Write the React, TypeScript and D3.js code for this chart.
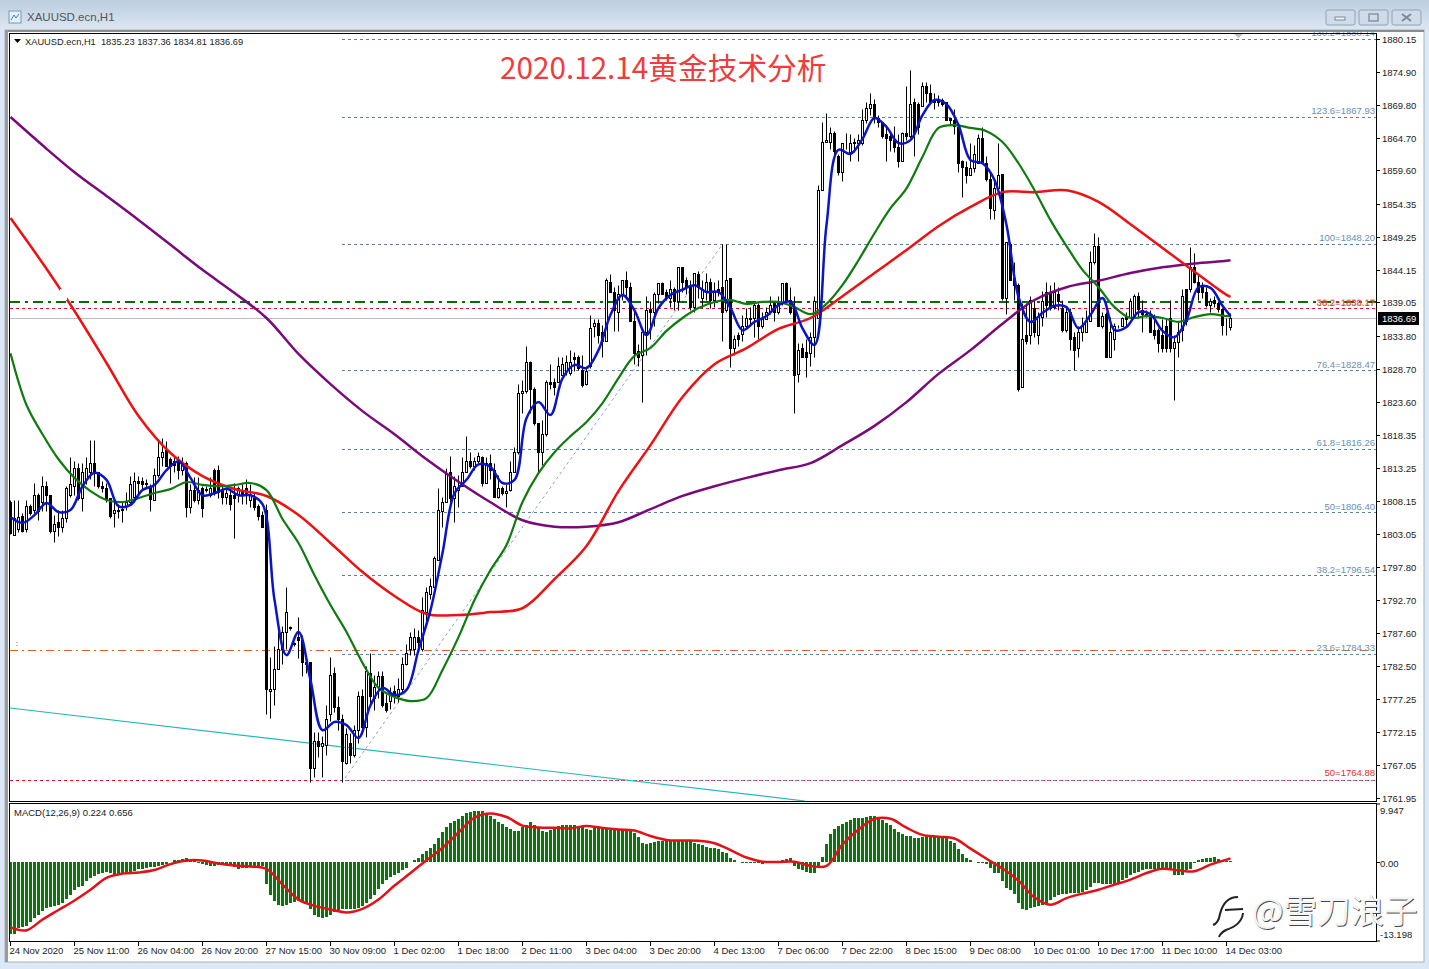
import * as d3 from "d3"

const symbolTitle = "XAUUSD.ecn,H1"
const quoteLine = "XAUUSD.ecn,H1  1835.23 1837.36 1834.81 1836.69"
const macdLine = "MACD(12,26,9) 0.224 0.656"
const headline = "2020.12.14黄金技术分析"

const priceTicks = [1880.15, 1874.9, 1869.8, 1864.7, 1859.6, 1854.35, 1849.25, 1844.15, 1839.05, 1833.8, 1828.7, 1823.6, 1818.35, 1813.25, 1808.15, 1803.05, 1797.8, 1792.7, 1787.6, 1782.5, 1777.25, 1772.15, 1767.05, 1761.95]
const timeLabels = ["24 Nov 2020", "25 Nov 11:00", "26 Nov 04:00", "26 Nov 20:00", "27 Nov 15:00", "30 Nov 09:00", "1 Dec 02:00", "1 Dec 18:00", "2 Dec 11:00", "3 Dec 04:00", "3 Dec 20:00", "4 Dec 13:00", "7 Dec 06:00", "7 Dec 22:00", "8 Dec 15:00", "9 Dec 08:00", "10 Dec 01:00", "10 Dec 17:00", "11 Dec 10:00", "14 Dec 03:00"]

// fibonacci levels, label and price
const fibLabels = ["130.2=1880.14", "123.6=1867.93", "100=1848.20", "76.4=1828.47", "61.8=1816.26", "50=1806.40", "38.2=1796.54", "23.6=1784.33", "0=1764.60"]
const fibPrices = [1880.14, 1867.93, 1848.2, 1828.47, 1816.26, 1806.4, 1796.54, 1784.33, 1764.6]

// one line per 16 bars
const opens = [
  1808.0, 1802.9, 1803.7, 1805.8, 1803.7, 1807.4, 1806.8, 1809.0, 1808.0, 1810.5, 1809.1, 1803.5, 1804.8, 1804.1, 1805.5, 1809.1,
  1810.5, 1813.3, 1808.6, 1811.5, 1812.6, 1814.1, 1812.6, 1810.5, 1810.1, 1808.6, 1806.3, 1806.6, 1806.8, 1807.4, 1808.0, 1808.8,
  1811.3, 1811.3, 1811.0, 1810.5, 1808.3, 1812.2, 1815.0, 1816.1, 1814.6, 1814.3, 1814.3, 1813.0, 1814.1, 1807.2, 1809.9, 1808.3,
  1810.2, 1809.9, 1809.0, 1813.0, 1813.0, 1809.9, 1808.8, 1809.1, 1809.1, 1809.1, 1809.6, 1810.1, 1808.3, 1808.6, 1807.4, 1806.0,
  1806.8, 1778.5, 1778.9, 1781.9, 1785.0, 1787.8, 1788.4, 1785.9, 1786.9, 1786.5, 1783.1, 1783.0, 1766.6, 1770.8, 1769.9, 1770.2,
  1774.9, 1781.4, 1776.0, 1774.1, 1767.4, 1770.5, 1768.5, 1772.5, 1777.7, 1773.0, 1781.4, 1777.5, 1779.2, 1780.9, 1776.7, 1777.0,
  1778.5, 1777.8, 1778.8, 1782.8, 1785.0, 1785.0, 1787.0, 1785.0, 1790.8, 1793.6, 1794.8, 1799.0, 1806.5, 1808.0, 1812.7, 1808.6,
  1809.9, 1810.4, 1812.7, 1814.3, 1813.5, 1814.3, 1815.0, 1811.0, 1814.0, 1813.0, 1808.8, 1810.2, 1809.4, 1809.9, 1812.7, 1815.7,
  1825.0, 1825.2, 1829.8, 1825.6, 1820.3, 1815.7, 1818.5, 1826.6, 1826.7, 1826.7, 1827.8, 1828.3, 1828.1, 1830.6, 1830.6, 1828.6,
  1826.4, 1829.1, 1835.3, 1835.9, 1834.5, 1833.0, 1842.3, 1840.7, 1837.6, 1840.3, 1842.6, 1841.4, 1836.2, 1831.5, 1830.9, 1834.4,
  1838.1, 1837.6, 1840.3, 1842.1, 1840.7, 1839.8, 1841.2, 1839.2, 1844.5, 1842.5, 1841.8, 1838.4, 1843.5, 1839.8, 1840.6, 1842.3,
  1839.5, 1841.1, 1841.4, 1837.8, 1842.8, 1832.0, 1834.0, 1834.2, 1835.3, 1836.5, 1836.7, 1838.6, 1835.3, 1836.4, 1837.5, 1839.0,
  1837.5, 1839.0, 1842.1, 1839.5, 1838.2, 1827.9, 1832.0, 1831.4, 1831.2, 1833.6, 1836.7, 1856.6, 1864.1, 1864.1, 1865.5, 1861.9,
  1859.4, 1863.9, 1862.4, 1864.1, 1863.9, 1863.9, 1867.5, 1869.4, 1870.0, 1867.8, 1867.2, 1865.3, 1864.9, 1864.4, 1863.3, 1861.1,
  1865.5, 1864.9, 1870.2, 1869.9, 1869.6, 1872.7, 1871.7, 1870.3, 1870.3, 1870.6, 1870.2, 1867.7, 1867.5, 1866.3, 1861.0, 1860.2,
  1858.9, 1860.0, 1860.8, 1864.7, 1860.8, 1858.2, 1853.5, 1856.9, 1859.1, 1839.8, 1848.1, 1842.9, 1841.8, 1825.8, 1833.9, 1834.0,
  1838.2, 1834.0, 1836.8, 1840.7, 1840.7, 1838.4, 1840.3, 1838.2, 1834.8, 1837.5, 1833.6, 1832.0, 1834.4, 1834.5, 1836.1, 1845.3,
  1847.8, 1835.3, 1837.2, 1830.5, 1833.4, 1835.3, 1835.3, 1836.8, 1836.8, 1836.8, 1840.1, 1837.9, 1837.2, 1837.2, 1834.8, 1834.8,
  1834.0, 1835.3, 1836.7, 1832.0, 1832.9, 1834.8, 1841.1, 1841.1, 1844.5, 1842.3, 1841.8, 1840.6, 1838.6, 1839.5, 1839.0, 1838.1,
  1835.4, 1835.23,
]
const highs = [
  1808.3, 1808.3, 1808.3, 1806.3, 1808.3, 1807.6, 1811.0, 1809.4, 1812.0, 1811.2, 1809.1, 1806.0, 1806.8, 1806.8, 1810.5, 1814.9,
  1814.3, 1814.1, 1814.1, 1815.0, 1817.7, 1817.7, 1812.7, 1811.2, 1811.0, 1808.6, 1808.3, 1807.7, 1808.0, 1809.6, 1812.0, 1812.6,
  1812.0, 1811.8, 1811.5, 1810.7, 1813.3, 1817.8, 1818.0, 1817.4, 1814.9, 1814.9, 1815.2, 1815.0, 1814.3, 1810.7, 1811.8, 1811.8,
  1810.5, 1810.4, 1811.8, 1813.3, 1813.8, 1810.7, 1810.2, 1810.4, 1811.0, 1810.4, 1811.0, 1811.5, 1810.7, 1809.4, 1807.7, 1806.5,
  1807.6, 1783.8, 1785.5, 1787.8, 1788.6, 1794.8, 1788.7, 1786.2, 1790.0, 1787.3, 1783.9, 1783.1, 1772.2, 1772.2, 1771.5, 1776.4,
  1783.9, 1782.2, 1777.7, 1774.9, 1772.8, 1772.0, 1773.3, 1778.5, 1778.8, 1782.5, 1784.5, 1781.1, 1781.6, 1781.6, 1778.0, 1779.1,
  1779.5, 1780.6, 1783.8, 1785.8, 1787.8, 1788.3, 1788.1, 1793.2, 1794.8, 1796.2, 1799.5, 1810.1, 1808.8, 1813.3, 1815.2, 1812.0,
  1812.2, 1815.0, 1818.2, 1815.7, 1815.0, 1815.7, 1815.2, 1815.0, 1815.4, 1814.1, 1812.2, 1810.4, 1810.7, 1814.4, 1816.6, 1826.4,
  1827.0, 1832.3, 1829.9, 1825.8, 1820.3, 1820.8, 1827.0, 1829.4, 1827.3, 1830.5, 1830.5, 1830.8, 1831.7, 1831.4, 1830.9, 1830.9,
  1829.1, 1837.1, 1836.4, 1836.4, 1835.6, 1842.8, 1843.4, 1841.5, 1841.8, 1842.6, 1843.9, 1842.3, 1838.2, 1832.5, 1834.4, 1840.0,
  1839.2, 1840.6, 1842.1, 1842.3, 1841.2, 1842.6, 1841.5, 1844.5, 1844.5, 1843.0, 1842.6, 1843.7, 1843.9, 1842.6, 1843.7, 1842.9,
  1842.3, 1842.6, 1848.1, 1848.1, 1842.9, 1834.0, 1834.4, 1837.1, 1838.2, 1838.4, 1838.9, 1839.0, 1837.6, 1838.4, 1840.0, 1839.3,
  1840.0, 1842.1, 1842.3, 1841.5, 1840.0, 1832.8, 1832.8, 1833.3, 1834.4, 1840.0, 1857.4, 1867.1, 1868.6, 1866.3, 1865.8, 1862.1,
  1863.9, 1865.5, 1865.2, 1864.7, 1865.2, 1869.2, 1870.2, 1871.7, 1870.8, 1868.3, 1867.2, 1866.7, 1865.6, 1866.6, 1865.2, 1865.6,
  1872.7, 1875.3, 1870.9, 1870.2, 1873.4, 1873.3, 1873.0, 1871.7, 1871.4, 1870.9, 1870.3, 1867.8, 1869.1, 1867.0, 1861.3, 1861.0,
  1863.9, 1863.6, 1865.2, 1866.3, 1861.8, 1859.3, 1858.3, 1863.9, 1859.1, 1848.5, 1848.4, 1845.4, 1842.0, 1839.0, 1839.0, 1840.0,
  1839.5, 1837.5, 1840.9, 1842.3, 1841.8, 1842.3, 1841.4, 1839.5, 1838.2, 1838.2, 1834.5, 1835.3, 1836.8, 1837.9, 1847.0, 1849.9,
  1849.2, 1837.5, 1837.6, 1836.8, 1835.9, 1835.6, 1836.8, 1837.5, 1839.8, 1840.3, 1840.6, 1839.5, 1837.9, 1837.9, 1837.2, 1835.1,
  1836.4, 1836.7, 1839.5, 1834.0, 1836.1, 1841.1, 1841.1, 1847.7, 1846.8, 1843.4, 1842.3, 1841.4, 1839.8, 1840.1, 1839.2, 1838.2,
  1836.7, 1837.36,
]
const lows = [
  1803.0, 1802.9, 1803.3, 1803.3, 1803.3, 1806.0, 1806.3, 1805.2, 1806.5, 1806.5, 1803.2, 1801.7, 1802.6, 1803.3, 1804.9, 1808.8,
  1809.1, 1808.3, 1806.5, 1810.7, 1811.5, 1810.4, 1810.2, 1809.6, 1808.0, 1805.5, 1804.0, 1805.5, 1804.8, 1806.8, 1807.6, 1808.0,
  1809.0, 1809.9, 1810.2, 1806.5, 1808.3, 1811.9, 1813.5, 1813.5, 1811.0, 1812.6, 1811.5, 1812.2, 1805.7, 1806.3, 1808.0, 1807.7,
  1805.7, 1809.6, 1808.8, 1809.1, 1808.6, 1807.6, 1807.7, 1806.8, 1802.3, 1807.9, 1807.6, 1807.6, 1807.2, 1806.8, 1805.2, 1804.1,
  1774.9, 1774.3, 1776.4, 1781.9, 1782.7, 1785.0, 1788.1, 1785.6, 1783.7, 1780.8, 1781.4, 1764.3, 1765.1, 1768.2, 1765.2, 1768.6,
  1773.8, 1775.2, 1772.5, 1764.4, 1767.1, 1767.4, 1768.3, 1770.5, 1771.8, 1771.4, 1776.4, 1775.6, 1777.5, 1776.1, 1775.3, 1775.8,
  1776.7, 1776.9, 1778.4, 1782.6, 1784.2, 1784.2, 1785.0, 1784.7, 1789.2, 1792.8, 1794.6, 1799.0, 1804.1, 1808.0, 1807.9, 1804.8,
  1807.2, 1810.4, 1812.7, 1813.3, 1813.0, 1814.1, 1810.4, 1811.0, 1811.5, 1808.8, 1808.6, 1809.1, 1807.2, 1809.7, 1812.6, 1815.4,
  1821.9, 1825.0, 1821.9, 1820.0, 1812.6, 1813.7, 1818.3, 1825.6, 1824.7, 1826.6, 1827.8, 1827.8, 1827.8, 1828.3, 1828.6, 1825.9,
  1826.2, 1828.9, 1833.7, 1832.8, 1830.6, 1833.0, 1840.6, 1834.6, 1834.6, 1839.5, 1840.0, 1836.1, 1829.4, 1829.2, 1823.6, 1830.9,
  1833.3, 1835.3, 1839.0, 1840.3, 1839.5, 1838.4, 1837.8, 1837.8, 1840.6, 1840.3, 1837.9, 1837.6, 1839.8, 1838.2, 1839.5, 1838.2,
  1838.4, 1840.0, 1833.0, 1837.6, 1829.0, 1830.9, 1832.3, 1833.0, 1835.1, 1835.6, 1833.7, 1833.3, 1835.1, 1836.4, 1837.2, 1836.1,
  1837.3, 1838.7, 1839.0, 1837.2, 1821.9, 1826.6, 1830.5, 1827.5, 1829.1, 1830.5, 1836.7, 1856.5, 1864.0, 1862.9, 1861.8, 1858.9,
  1857.9, 1862.9, 1861.0, 1862.4, 1861.0, 1863.6, 1867.0, 1868.3, 1867.0, 1866.3, 1864.6, 1861.1, 1862.6, 1862.4, 1860.2, 1861.0,
  1864.4, 1864.7, 1861.9, 1865.2, 1869.6, 1870.2, 1870.2, 1869.1, 1869.6, 1869.6, 1867.4, 1866.7, 1865.2, 1859.4, 1855.5, 1857.7,
  1858.9, 1859.4, 1860.8, 1860.8, 1858.0, 1852.0, 1852.0, 1856.6, 1839.5, 1837.2, 1842.6, 1839.5, 1825.3, 1825.8, 1832.5, 1832.5,
  1833.6, 1832.5, 1835.3, 1836.8, 1837.9, 1838.1, 1837.9, 1834.5, 1834.5, 1831.7, 1828.6, 1830.6, 1833.0, 1834.4, 1836.1, 1845.1,
  1835.3, 1835.1, 1830.5, 1830.5, 1831.7, 1835.1, 1835.3, 1835.3, 1836.7, 1836.8, 1836.7, 1834.5, 1836.8, 1834.4, 1833.3, 1831.4,
  1831.4, 1831.4, 1831.4, 1823.9, 1830.6, 1833.0, 1835.6, 1840.7, 1842.1, 1839.5, 1839.8, 1838.4, 1837.5, 1838.4, 1837.6, 1834.0,
  1834.0, 1834.81,
]
const closes = [
  1803.2, 1805.4, 1805.7, 1803.5, 1807.4, 1806.3, 1809.1, 1806.5, 1810.5, 1809.0, 1803.5, 1804.6, 1804.0, 1805.5, 1810.1, 1810.7,
  1813.2, 1808.6, 1812.6, 1813.3, 1814.1, 1812.6, 1810.4, 1810.1, 1808.5, 1805.8, 1806.8, 1806.7, 1806.9, 1808.0, 1810.7, 1811.2,
  1811.0, 1810.7, 1810.7, 1808.5, 1812.2, 1815.0, 1815.8, 1813.6, 1813.5, 1813.8, 1813.0, 1813.8, 1807.2, 1809.9, 1808.3, 1809.9,
  1807.1, 1810.0, 1810.2, 1809.4, 1809.6, 1808.8, 1809.3, 1807.6, 1808.6, 1810.2, 1809.1, 1809.1, 1809.1, 1807.2, 1805.8, 1804.1,
  1778.8, 1778.9, 1782.0, 1785.0, 1787.8, 1790.8, 1788.5, 1786.0, 1786.5, 1783.0, 1782.8, 1766.6, 1770.7, 1769.9, 1770.4, 1774.1,
  1781.1, 1776.0, 1774.1, 1767.6, 1771.8, 1768.6, 1772.5, 1777.8, 1773.0, 1781.6, 1777.7, 1779.2, 1780.9, 1776.4, 1775.5, 1778.0,
  1777.7, 1778.9, 1782.8, 1784.5, 1787.0, 1787.0, 1786.1, 1791.1, 1793.9, 1794.9, 1799.2, 1806.8, 1808.0, 1812.4, 1808.6, 1810.4,
  1810.1, 1812.7, 1814.4, 1813.5, 1814.3, 1815.2, 1811.0, 1814.0, 1813.0, 1808.8, 1810.2, 1809.3, 1809.7, 1812.7, 1815.7, 1825.0,
  1825.2, 1829.8, 1825.6, 1820.2, 1815.7, 1818.5, 1826.6, 1826.4, 1825.8, 1829.1, 1829.5, 1829.7, 1829.7, 1830.3, 1828.9, 1826.2,
  1828.4, 1835.1, 1835.9, 1834.0, 1833.0, 1842.5, 1840.6, 1837.9, 1840.3, 1842.6, 1841.4, 1836.1, 1831.2, 1830.6, 1834.4, 1837.9,
  1837.5, 1840.3, 1842.1, 1840.3, 1839.8, 1841.2, 1839.2, 1844.5, 1842.3, 1841.5, 1838.4, 1843.7, 1841.4, 1841.1, 1842.3, 1839.5,
  1840.7, 1840.9, 1837.5, 1842.6, 1832.0, 1833.3, 1833.3, 1835.3, 1836.7, 1836.6, 1838.7, 1835.3, 1836.4, 1837.6, 1838.7, 1837.5,
  1839.0, 1842.0, 1839.2, 1837.6, 1827.8, 1831.7, 1830.6, 1830.5, 1833.7, 1839.2, 1856.6, 1864.1, 1864.3, 1865.5, 1862.6, 1859.4,
  1863.9, 1863.8, 1863.8, 1863.9, 1864.3, 1867.5, 1869.4, 1870.0, 1868.0, 1867.2, 1864.9, 1864.7, 1864.4, 1863.2, 1861.1, 1865.5,
  1864.9, 1870.0, 1865.5, 1866.4, 1872.7, 1871.7, 1870.2, 1870.4, 1870.4, 1869.9, 1867.5, 1867.4, 1866.6, 1860.8, 1860.2, 1858.9,
  1860.0, 1862.1, 1864.7, 1860.8, 1858.2, 1853.8, 1856.9, 1858.9, 1839.8, 1848.4, 1842.6, 1841.7, 1825.5, 1833.3, 1833.1, 1839.5,
  1834.5, 1836.8, 1839.2, 1838.7, 1838.2, 1840.7, 1839.2, 1834.8, 1837.5, 1833.3, 1831.7, 1834.5, 1835.3, 1836.1, 1845.3, 1847.8,
  1835.3, 1837.0, 1830.5, 1834.5, 1835.3, 1835.4, 1836.7, 1836.4, 1839.2, 1840.0, 1838.1, 1837.3, 1837.0, 1834.5, 1834.0, 1832.8,
  1832.0, 1832.0, 1832.0, 1832.9, 1834.5, 1840.0, 1836.1, 1844.5, 1842.3, 1840.7, 1840.6, 1838.6, 1839.2, 1839.0, 1838.1, 1835.6,
  1835.3, 1836.69,
]

// moving averages, read every few bars (the last reading is the final bar)
const BLUE_STEP = 3
const blueMa = [
  1805.7, 1804.8, 1806.0, 1807.9, 1806.5, 1806.8, 1810.5, 1812.6, 1811.5, 1807.4, 1807.6, 1809.9, 1810.7, 1813.0, 1814.4, 1811.8, 1809.1, 1809.4, 1810.1, 1809.1, 1809.1, 1807.7, 1792.8,
  1784.2, 1787.8, 1780.3, 1772.5, 1773.8, 1773.3, 1771.3, 1776.4, 1779.1, 1778.0, 1778.8, 1785.0, 1791.2, 1800.1, 1809.4, 1811.5, 1813.9, 1813.5, 1811.0, 1811.5, 1821.1, 1823.6, 1821.6,
  1827.3, 1829.4, 1828.9, 1831.7, 1837.2, 1840.3, 1837.9, 1834.05, 1838.25, 1840.3, 1841.1, 1841.8, 1840.75, 1840.75, 1838.25, 1834.8, 1836.1, 1837.0, 1838.7, 1839.2, 1835.1, 1832.5,
  1851.2, 1862.9, 1862.25, 1864.6, 1867.85, 1866.45, 1863.95, 1864.4, 1868.3, 1870.65, 1870.0, 1866.75, 1861.3, 1860.8, 1858.2, 1851.2, 1840.0, 1836.1, 1837.5, 1838.6, 1838.4, 1835.1,
  1837.2, 1839.8, 1834.8, 1835.3, 1837.6, 1837.3, 1834.7, 1833.7, 1836.4, 1841.5, 1841.4, 1838.6, 1837.0,
]
const GREEN_STEP = 4
const greenMa = [
  1831.2, 1823.15, 1818.6, 1814.7, 1811.8, 1809.75, 1808.35, 1808.05, 1808.65, 1809.45, 1810.05, 1811.15, 1810.7, 1810.5, 1810.7, 1811.0, 1809.9, 1805.4, 1801.65, 1796.65,
  1792.0, 1787.8, 1783.0, 1779.1, 1777.7, 1777.05, 1777.5, 1781.9, 1787.0, 1792.8, 1797.45, 1801.35, 1808.05, 1812.55, 1815.8, 1818.3, 1820.5, 1823.45, 1827.35, 1830.8,
  1832.05, 1834.7, 1836.7, 1838.25, 1839.2, 1839.5, 1838.9, 1839.2, 1839.2, 1838.4, 1837.3, 1838.9, 1841.85, 1845.7, 1849.9, 1853.8, 1856.9, 1861.8, 1866.3, 1866.75,
  1866.3, 1865.8, 1864.1, 1860.8, 1856.6, 1851.95, 1847.9, 1844.2, 1841.5, 1838.4, 1836.7, 1837.0, 1836.7, 1836.1, 1836.85, 1837.3, 1837.0, 1837.0,
]
const SLOW_STEP = 8
const redMa = [
  1852.27, 1845.26, 1837.79, 1829.69, 1821.44, 1815.67, 1812.09, 1810.07, 1808.98, 1806.02, 1801.66, 1797.14, 1793.41, 1790.6, 1790.45, 1790.9, 1791.5, 1796.05, 1801.2, 1809.75,
  1816.9, 1824.4, 1829.5, 1832.0, 1835.0, 1836.7, 1840.1, 1843.7, 1847.3, 1851.0, 1854.0, 1856.3, 1856.3, 1856.6, 1854.8, 1851.3, 1847.6, 1843.9, 1840.3, 1840.0,
]
const purpleMa = [
  1868.0, 1863.6, 1859.4, 1855.7, 1851.96, 1848.1, 1844.2, 1840.6, 1836.7, 1831.1, 1826.4, 1822.2, 1818.6, 1814.7, 1811.2, 1808.0, 1805.2, 1804.2, 1804.2, 1804.9,
  1806.95, 1809.0, 1810.5, 1811.8, 1813.0, 1814.1, 1816.9, 1819.9, 1823.6, 1828.0, 1831.7, 1835.8, 1839.5, 1841.5, 1842.5, 1843.7, 1844.6, 1845.2, 1845.6, 1845.7,
]

const macdBars = [
  -12.1, -12.0, -11.1, -10.9, -10.6, -10.0, -9.4, -8.8, -8.2, -7.7, -7.5, -7.3, -7.1, -6.9, -6.1, -5.4,
  -4.6, -4.2, -3.9, -3.2, -2.6, -2.3, -2.0, -1.8, -1.7, -1.8, -2.1, -2.0, -1.8, -1.8, -1.7, -1.5,
  -1.2, -1.1, -1.0, -0.8, -0.8, -0.7, -0.5, -0.2, 0.1, 0.35, 0.45, 0.6, 0.8, 0.4, 0.15, -0.1,
  -0.3, -0.5, -0.7, -0.55, -0.45, -0.4, -0.45, -0.55, -0.8, -1.1, -1.0, -0.9, -0.8, -0.7, -0.6, -0.55,
  -3.6, -5.4, -6.5, -7.1, -7.3, -7.2, -6.9, -6.7, -6.5, -6.5, -6.8, -7.9, -8.8, -9.2, -9.4, -9.2,
  -8.8, -8.4, -8.0, -7.9, -7.9, -7.9, -7.8, -7.6, -7.3, -6.8, -6.1, -5.4, -4.5, -3.6, -3.0, -2.5,
  -2.1, -1.8, -1.3, -0.9, 0.1, 0.35, 0.8, 1.35, 1.9, 2.45, 3.1, 4.1, 5.1, 6.0, 6.65, 6.9,
  7.3, 7.85, 8.2, 8.5, 8.65, 8.65, 8.55, 8.15, 7.75, 7.2, 6.75, 6.35, 5.85, 5.55, 5.2, 5.2,
  5.85, 6.2, 6.75, 6.3, 6.0, 5.2, 5.1, 5.5, 5.8, 6.05, 6.2, 6.2, 6.2, 6.3, 6.1, 5.85,
  5.6, 5.5, 5.75, 5.75, 5.6, 5.6, 5.5, 5.4, 5.4, 5.5, 5.6, 5.4, 4.85, 4.25, 3.2, 3.1,
  3.2, 3.4, 3.5, 3.6, 3.6, 3.75, 3.6, 3.5, 3.6, 3.75, 3.5, 3.3, 3.0, 2.85, 2.6, 2.45,
  2.4, 2.2, 1.75, 1.6, 0.8, 0.35, 0.05, -0.1, -0.1, -0.1, -0.1, -0.15, -0.2, -0.05, -0.05, -0.05,
  0.05, 0.4, 0.6, 0.65, -0.6, -1.05, -1.3, -1.55, -1.75, -1.75, -0.9, 0.95, 3.0, 4.7, 5.65, 6.1,
  6.5, 6.8, 7.1, 7.4, 7.4, 7.4, 7.65, 7.8, 7.8, 7.65, 7.1, 6.65, 6.2, 5.65, 5.15, 4.7,
  4.4, 4.4, 4.1, 4.1, 4.2, 4.4, 4.4, 4.3, 4.3, 4.3, 4.15, 3.6, 3.2, 2.3, 1.35, 0.8,
  0.4, 0.05, -0.1, -0.1, -0.35, -0.9, -1.75, -1.85, -3.2, -4.25, -4.65, -5.35, -6.8, -7.75, -8.0, -7.65,
  -7.5, -7.4, -7.1, -6.9, -6.25, -5.8, -5.4, -5.25, -5.25, -5.1, -5.1, -5.1, -4.9, -4.6, -4.1, -3.5,
  -3.5, -3.6, -3.6, -3.6, -3.6, -3.5, -2.9, -2.6, -2.1, -1.8, -1.7, -1.35, -1.2, -1.2, -1.2, -1.2,
  -1.2, -1.35, -1.35, -2.2, -2.2, -2.1, -1.35, -1.1, -0.1, 0.45, 0.55, 0.65, 0.7, 0.9, 0.55, 0.45,
  0.3, 0.224,
]
const SIGNAL_STEP = 4
const macdSignal = [
  -10.9, -11.4, -9.6, -8.0, -6.4, -4.6, -2.6, -1.9, -1.7, -1.3, -0.3, 0.3, 0.3, -0.2, -0.55, -0.7, -1.1, -3.75, -6.25, -7.3,
  -7.9, -8.4, -7.8, -6.25, -3.9, -1.8, 0.35, 2.45, 5.0, 7.5, 8.2, 7.6, 6.15, 5.85, 5.8, 5.7, 6.1, 5.75, 5.5, 5.35,
  4.4, 3.75, 3.65, 3.6, 3.2, 2.05, 0.8, 0.1, 0.05, 0.1, -0.6, -0.6, 3.0, 5.5, 7.3, 7.3, 5.8, 4.6, 4.3, 4.0,
  2.3, 0.6, -1.05, -3.1, -5.9, -7.1, -6.0, -5.25, -4.6, -3.75, -2.9, -1.8, -1.1, -1.35, -1.5, -0.4, 0.45, 0.656,
]

const lastBar = closes.length - 1
const lineFont = "'Liberation Sans', Arial, sans-serif"
const axisInk = "#1a1a1a"
const fibInk = "#6a8fb5"

const x = d3.scaleLinear().domain([0, 305]).range([10.5, 1230.5])
const y = d3.scaleLinear().domain([1761.95, 1880.15]).range([798, 39])
const m = d3.scaleLinear().domain([-13.198, 9.947]).range([941, 803])

// sampled series -> path, the last sample lands on the final bar
function sampledPath(values: number[], step: number, scale: (v: number) => number) {
  const line = d3
    .line<number>()
    .x((_, i) => x(Math.min(i * step, lastBar)))
    .y((d) => scale(d))
    .curve(d3.curveCatmullRom.alpha(0.5))
  return line(values) ?? ""
}

const snap = (v: number) => Math.round(v - 0.5) + 0.5

function Candle({ i }: { i: number }) {
  const cx = x(i)
  const up = closes[i] >= opens[i]
  const top = snap(y(Math.max(opens[i], closes[i])))
  const bottom = snap(y(Math.min(opens[i], closes[i])))
  return (
    <g>
      <line x1={cx} x2={cx} y1={snap(y(highs[i]))} y2={snap(y(lows[i]))} stroke="#000" />
      <rect x={cx - 1} y={top} width={2} height={Math.max(bottom - top, 0)} fill={up ? "#fff" : "#000"} stroke="#000" />
    </g>
  )
}

function Chrome() {
  return (
    <g>
      <defs>
        <linearGradient id="titleBar" x1="0" y1="0" x2="0" y2="1">
          <stop offset="0" stopColor="#bccde0" />
          <stop offset="1" stopColor="#dde7f1" />
        </linearGradient>
      </defs>
      <rect width={1429} height={969} fill="#dce8f5" />
      <rect width={1429} height={30} fill="url(#titleBar)" />
      <rect x={5} y={30} width={1419} height={932} fill="#fff" stroke="#a8b0b8" />
      <rect x={5} y={30} width={3} height={932} fill="#9a9a9a" />
      <rect x={8} y={30} width={1416} height={2} fill="#8c8c8c" />
      <rect x={9} y={11} width={12} height={12} fill="#e8f0f8" stroke="#6f9ac4" />
      <path d="M11 20 L14 15 L16 18 L19 14" fill="none" stroke="#4a7fb0" />
      <text x={27} y={21} fontFamily={lineFont} fontSize={11.5} fill="#555">{symbolTitle}</text>
      {[1326, 1359, 1392].map((bx) => (
        <rect key={bx} x={bx} y={10} width={29} height={15} rx={2} fill="#cfdbe8" stroke="#8fa3b8" />
      ))}
      <rect x={1335} y={17} width={10} height={3} fill="#eef3f8" stroke="#7c8b9a" />
      <rect x={1369} y={14} width={9} height={7} fill="none" stroke="#7c8b9a" strokeWidth={1.3} />
      <path d="M1402 14 L1411 21 M1411 14 L1402 21" stroke="#7c8b9a" strokeWidth={2} />
    </g>
  )
}

function Watermark() {
  const word = "@雪刀浪子"
  return (
    <g>
      <path d="M1238 897 C1226 897 1222 906 1220 914 C1219 920 1216 924 1213 925" fill="none" stroke="#222" strokeWidth={2} />
      <path d="M1225 910 L1243 909" fill="none" stroke="#222" strokeWidth={2} />
      <path d="M1243 913 C1242 924 1232 928 1226 930 C1222 932 1220 934 1219 937" fill="none" stroke="#222" strokeWidth={2} />
      <text x={1252.8} y={923.6} fontFamily="'Noto Sans CJK SC'" fontSize={33.5} fill="#444">{word}</text>
      <text x={1252} y={923} fontFamily="'Noto Sans CJK SC'" fontSize={33.5} fill="#f4f4f4">{word}</text>
    </g>
  )
}

export default function App() {
  const bars = d3.range(closes.length)
  return (
    <svg width={1429} height={969} style={{ position: "fixed", left: 0, top: 0, display: "block" }}>
      <Chrome />
      <defs>
        <clipPath id="pricePane">
          <rect x={10} y={34} width={1366} height={767} />
        </clipPath>
      </defs>

      {/* price pane */}
      <g clipPath="url(#pricePane)">
        <line x1={10} x2={1376} y1={snap(y(1836.69))} y2={snap(y(1836.69))} stroke="#bdbdbd" />
        <line x1={10} x2={1376} y1={snap(y(1838.17))} y2={snap(y(1838.17))} stroke="#e0102a" strokeDasharray="3,3" />
        <line x1={10} x2={1376} y1={snap(y(1764.7))} y2={snap(y(1764.7))} stroke="#e0102a" strokeDasharray="3,3" />
        {fibPrices.map((p) => (
          <line key={p} x1={p === 1764.6 ? 345 : 342} x2={1376} y1={snap(y(p))} y2={snap(y(p))} stroke="#5f7f9f" strokeDasharray="3,3" />
        ))}
        <line x1={10} x2={1376} y1={snap(y(1784.85))} y2={snap(y(1784.85))} stroke="#d8632a" strokeDasharray="8,4,2,4" />
        <line x1={345} y1={778} x2={722} y2={245} stroke="#6f8fb0" strokeWidth={0.8} strokeDasharray="3,3" />
        <line x1={10} y1={708} x2={805} y2={801} stroke="#27b6bd" strokeWidth={1.2} />
        <line x1={10} x2={1376} y1={302} y2={302} stroke="#0b6b0b" strokeWidth={2} strokeDasharray="10,5,3,5" />
        {bars.map((i) => <Candle key={i} i={i} />)}
        <path d={sampledPath(purpleMa, SLOW_STEP, y)} fill="none" stroke="#7a0a7a" strokeWidth={2.5} />
        <path d={sampledPath(redMa, SLOW_STEP, y)} fill="none" stroke="#ee1111" strokeWidth={2.5} />
        <rect x={60} y={289} width={7} height={11} fill="#fff" />
        <path d={sampledPath(greenMa, GREEN_STEP, y)} fill="none" stroke="#0f7a0f" strokeWidth={2.2} />
        <path d={sampledPath(blueMa, BLUE_STEP, y)} fill="none" stroke="#0a14c8" strokeWidth={2.5} />
        <path d="M1234 34 L1243 34 L1238.5 38 Z" fill="#bfbfbf" />
        <line x1={17} x2={17} y1={642} y2={648} stroke="#d8632a" strokeDasharray="1,2" />
      </g>

      {fibLabels.slice(0, -1).map((label, k) => (
        <text key={label} x={1375} y={y(fibPrices[k]) - 3} textAnchor="end" fontFamily={lineFont} fontSize={9.5} fill={fibInk}>{label}</text>
      ))}
      <text x={1375} y={306} textAnchor="end" fontFamily={lineFont} fontSize={9.5} fill="#e0301a">38.2=1838.17</text>
      <text x={1375} y={305} textAnchor="end" fontFamily={lineFont} fontSize={9.5} fill="#c98a70" opacity={0.6}>36.2=1839.17</text>
      <text x={1375} y={776} textAnchor="end" fontFamily={lineFont} fontSize={9.5} fill="#e0301a">50=1764.88</text>

      <text x={500} y={79} fontFamily="'Noto Sans CJK SC'" fontSize={29.7} fill="#f03c3c">{headline}</text>
      <path d="M14 39 L21 39 L17.5 43 Z" fill="#000" />
      <text x={25} y={45} fontFamily={lineFont} fontSize={9.3} fill={axisInk} xmlSpace="preserve">{quoteLine}</text>

      {/* macd pane */}
      {bars.map((i) => (
        <rect
          key={i}
          x={x(i) - 1.5}
          y={Math.round(m(Math.max(macdBars[i], 0)))}
          width={3}
          height={Math.abs(Math.round(m(macdBars[i])) - Math.round(m(0)))}
          fill="#0a760a"
        />
      ))}
      <path d={sampledPath(macdSignal, SIGNAL_STEP, m)} fill="none" stroke="#e41018" strokeWidth={2.5} />
      <text x={14} y={816} fontFamily={lineFont} fontSize={9.5} fill={axisInk}>{macdLine}</text>

      {/* frames */}
      <rect x={9.5} y={33.5} width={1367} height={768} fill="none" stroke="#000" />
      <rect x={9.5} y={803.5} width={1367} height={138} fill="none" stroke="#000" />

      {priceTicks.map((t) => (
        <g key={t}>
          <line x1={1377} x2={1380} y1={snap(y(t))} y2={snap(y(t))} stroke="#000" />
          <text x={1382} y={y(t) + 3.5} fontFamily={lineFont} fontSize={9.5} fill={axisInk}>{t.toFixed(2)}</text>
        </g>
      ))}
      <rect x={1378} y={312} width={41} height={13} fill="#000" />
      <text x={1382} y={322} fontFamily={lineFont} fontSize={9.5} fill="#fff">1836.69</text>

      <line x1={1377} x2={1380} y1={804} y2={804} stroke="#000" />
      <text x={1380} y={814} fontFamily={lineFont} fontSize={9.5} fill={axisInk}>9.947</text>
      <line x1={1377} x2={1380} y1={snap(m(0))} y2={snap(m(0))} stroke="#000" />
      <text x={1380} y={867} fontFamily={lineFont} fontSize={9.5} fill={axisInk}>0.00</text>
      <line x1={1377} x2={1380} y1={941} y2={941} stroke="#000" />
      <text x={1380} y={938} fontFamily={lineFont} fontSize={9.5} fill={axisInk}>-13.198</text>

      {timeLabels.map((label, k) => (
        <g key={label}>
          <line x1={x(k * 16)} x2={x(k * 16)} y1={942} y2={946} stroke="#000" />
          <text x={x(k * 16) - 1} y={954} fontFamily={lineFont} fontSize={9.5} fill={axisInk}>{label}</text>
        </g>
      ))}

      <Watermark />
    </svg>
  )
}
